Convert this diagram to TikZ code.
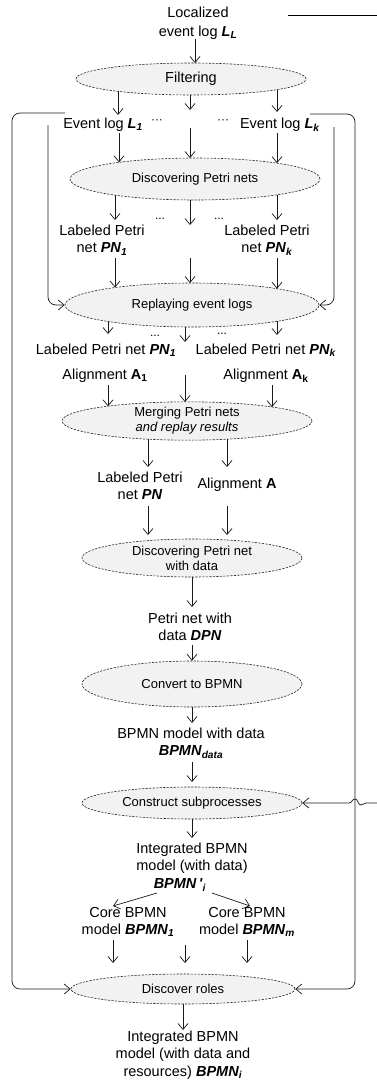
\documentclass[tikz,border=0pt]{standalone}
\usepackage{fontspec}
\setmainfont{Liberation Sans}
\usetikzlibrary{arrows.meta,shapes.geometric}
\newcommand\bi[1]{\textbf{\textit{#1}}}
\newcommand\bsub[1]{\textsubscript{\textbf{\textit{#1}}}}
\begin{document}
\begin{tikzpicture}[x=1pt,y=-1pt,
  lbl/.style={font=\fontsize{14.5}{17.5}\selectfont, align=center, inner sep=0pt},
  proc/.style={ellipse, draw=black!85, dash pattern=on 2.2pt off 1.3pt, fill=gray!10, line width=0.6pt, inner sep=0pt, font=\fontsize{13}{15}\selectfont, align=center},
  arr/.style={-{Straight Barb[length=6pt,width=10pt]}, line width=0.7pt, draw=black!90},
  dotlbl/.style={font=\fontsize{12}{13}\selectfont, inner sep=0pt}
]
\useasboundingbox (0,0) rectangle (377,1082);

% nodes
\node[lbl] (loc) at (198,23) {Localized\\[1pt]event log \bi{L}\bsub{L}};
\node[proc, minimum width=230pt, minimum height=32pt, font=\fontsize{14.5}{17}\selectfont] (filt) at (191,79) {Filtering};
\node[lbl] (el1) at (103,125) {Event log \bi{L}\bsub{1}};
\node[lbl] (elk) at (280,125) {Event log \bi{L}\bsub{k}};
\node[dotlbl] (d1) at (157,122) {···};
\node[dotlbl] (d2) at (223,122) {···};
\node[proc, minimum width=250pt, minimum height=42pt] (disc) at (195,179) {Discovering Petri nets};
\node[dotlbl] (d3) at (160,219) {...};
\node[dotlbl] (d4) at (219,219) {...};
\node[lbl] (lpn1) at (102,240) {Labeled Petri\\net \bi{PN}\bsub{1}};
\node[lbl] (lpnk) at (267,240) {Labeled Petri\\net \bi{PN}\bsub{k}};
\node[proc, minimum width=254pt, minimum height=44pt] (replay) at (192,305) {Replaying event logs};
\node[dotlbl] (d5) at (155,336) {...};
\node[dotlbl] (d6) at (222,334) {...};
\node[lbl] (lpn1b) at (106,350) {Labeled Petri net \bi{PN}\bsub{1}};
\node[lbl] (lpnkb) at (266,350) {Labeled Petri net \bi{PN}\bsub{k}};
\node[lbl] (al1) at (105,376) {Alignment \textbf{A\textsubscript{1}}};
\node[lbl] (alk) at (266,376) {Alignment \textbf{A\textsubscript{k}}};
\node[proc, minimum width=250pt, minimum height=38pt] (merge) at (187,421) {Merging Petri nets\\\textit{and replay results}};
\node[lbl] (lpn) at (140,486) {Labeled Petri\\net \bi{PN}};
\node[lbl] (al) at (237,485) {Alignment \textbf{A}};
\node[proc, minimum width=220pt, minimum height=38pt] (dd) at (192,558) {Discovering Petri net\\with data};
\node[lbl] (dpn) at (190,627) {Petri net with\\data \bi{DPN}};
\node[proc, minimum width=220pt, minimum height=46pt] (conv) at (192,684) {Convert to BPMN};
\node[lbl] (bd) at (191,743) {BPMN model with data\\\bi{BPMN}\bsub{data}};
\node[proc, minimum width=220pt, minimum height=32pt] (cons) at (192,803) {Construct subprocesses};
\node[lbl] (integ) at (192,858) {Integrated BPMN\\model (with data)};
\node[lbl] (bpi) at (180,885) {\bi{BPMN\,\textquotesingle}\bsub{i}};
\node[lbl] (c1) at (128,922) {Core BPMN\\model \bi{BPMN}\bsub{1}};
\node[lbl] (cm) at (247,922) {Core BPMN\\model \bi{BPMN}\bsub{m}};
\node[proc, minimum width=224pt, minimum height=30pt] (roles) at (183,989) {Discover roles};
\node[lbl] (fin) at (183,1055) {Integrated BPMN\\model (with data and\\resources) \bi{BPMN}\bsub{i}};

% connectors
\draw[arr] (195,39) -- (195,63);
\draw[arr] (118,91.4) -- (118,115);
\draw[arr] (190,95) -- (190,110);
\draw[arr] (277,89.6) -- (277,112);
\draw[arr] (119,133) -- (119,162.3);
\draw[arr] (190,128) -- (190,158);
\draw[arr] (277,133) -- (277,163.1);
\draw[arr] (115,195.1) -- (115,220);
\draw[arr] (190,200) -- (190,225);
\draw[arr] (277,194.9) -- (277,220);
\draw[arr] (115,258) -- (115,287.5);
\draw[arr] (190,258) -- (190,283);
\draw[arr] (277,258) -- (277,288.7);
\draw[arr] (108,321.5) -- (108,334);
\draw[arr] (185,327) -- (185,342);
\draw[arr] (277,321.3) -- (277,335);
\draw[arr] (108,385) -- (108,406.3);
\draw[arr] (185,375) -- (185,402);
\draw[arr] (272,385) -- (272,407.1);
\draw[arr] (148,439.1) -- (148,467);
\draw[arr] (227,439) -- (227,467);
\draw[arr] (148,506) -- (148,535);
\draw[arr] (227,506) -- (227,535);
\draw[arr] (dd.south) -- (192,607);
\draw[arr] (192,645) -- (conv.north);
\draw[arr] (conv.south) -- (192,723);
\draw[arr] (192,762) -- (192,782);
\draw[arr] (cons.south) -- (192,838);
\draw[arr] (157,893) -- (113,906);
\draw[arr] (212,893) -- (250,906);
\draw[arr] (113,940) -- (113,963);
\draw[arr] (185,945) -- (185,963);
\draw[arr] (247,940) -- (247,963);
\draw[arr] (roles.south) -- (183,1030);

% loops
\draw[arr, rounded corners=8pt] (48,125) -- (48,305) -- (replay.west);
\draw[arr, rounded corners=8pt] (334,127) -- (334,305) -- (replay.east);
\draw[arr, rounded corners=8pt] (65,113) -- (12,113) -- (12,989) -- (roles.west);
\draw[arr, rounded corners=8pt] (310,114) -- (355,114) -- (355,989) -- (roles.east);
\draw[line width=0.7pt] (288,15) -- (377,15);
\draw[arr] (377,803) -- (366,803) to[out=180,in=0] (361,805) to[out=180,in=0] (355,799) to[out=180,in=0] (349,803) -- (cons.east);
\end{tikzpicture}
\end{document}
